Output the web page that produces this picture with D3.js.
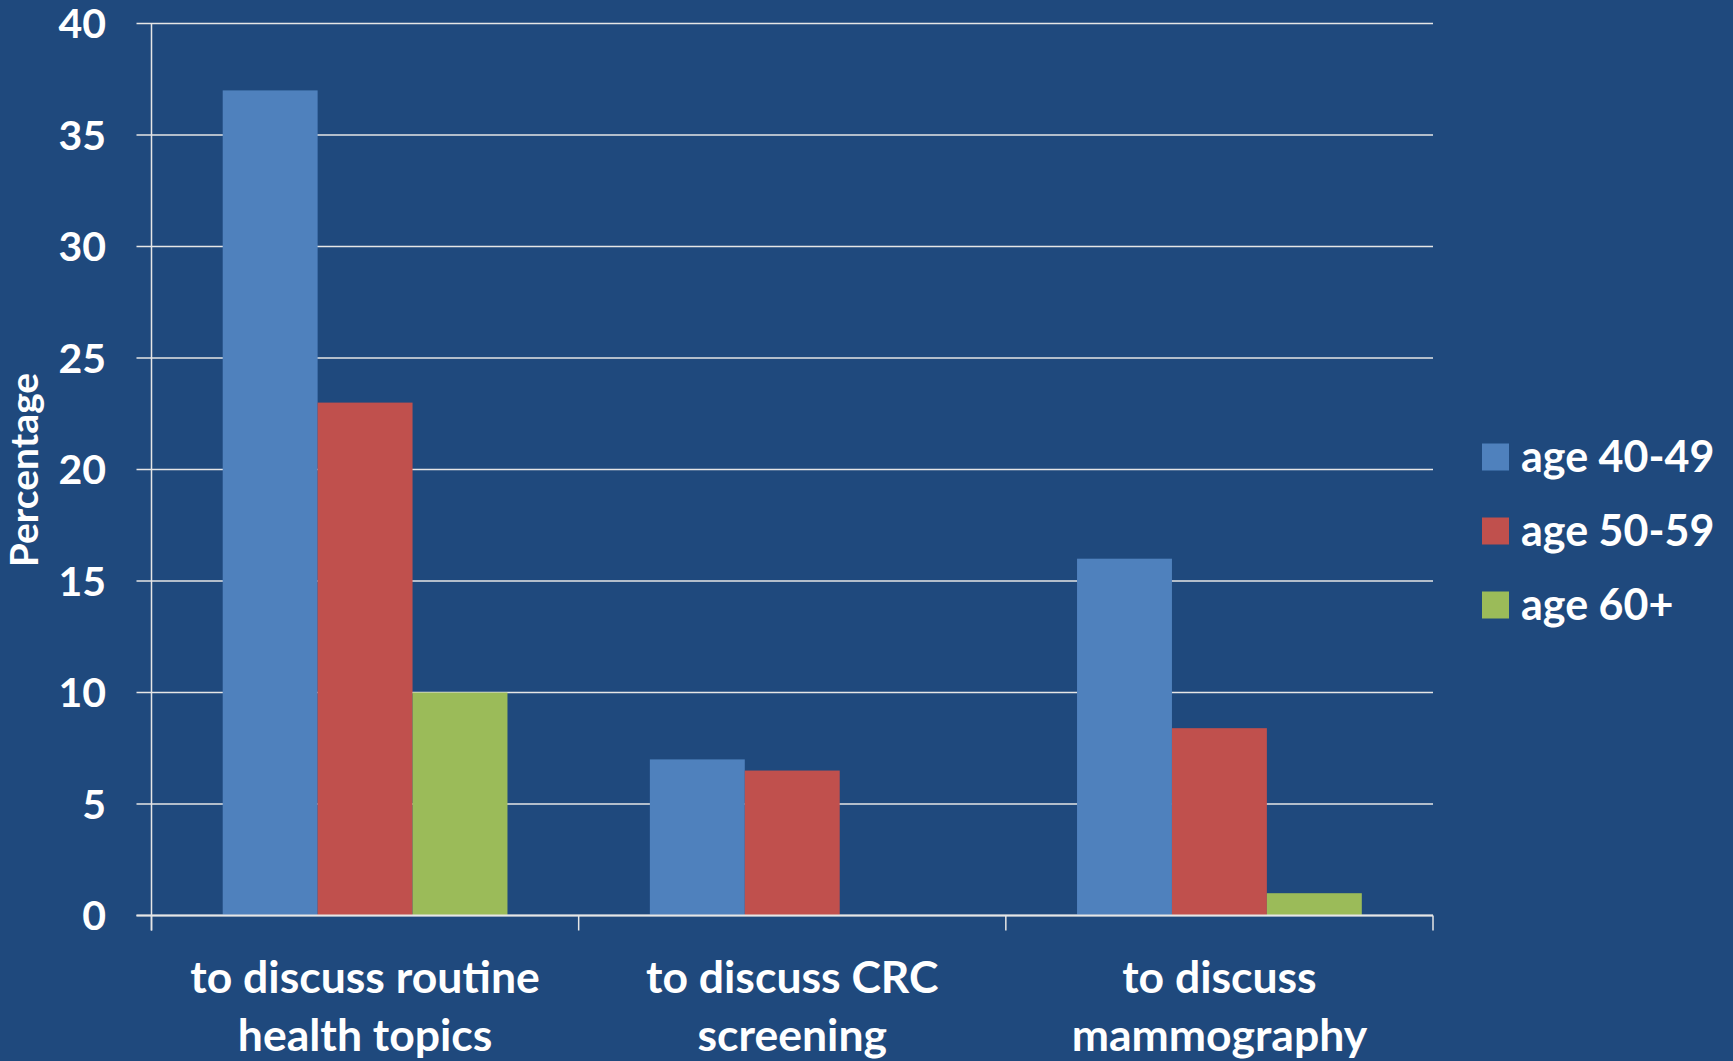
<!DOCTYPE html>
<meta charset="utf-8">
<style>
    body { margin: 0; background: #1f497d; }
    svg { display: block; }
    text { font-family: Lato, "Open Sans", sans-serif; font-weight: bold; fill: #fff; }
    .grid line { stroke: #e6e6e6; stroke-width: 1.5; }
</style>
<svg width="1733" height="1061"></svg>
<script src="https://cdn.jsdelivr.net/npm/d3@7"></script>
<script>
    var categories = [
        ["to discuss routine", "health topics"],
        ["to discuss CRC", "screening"],
        ["to discuss", "mammography"]
    ];
    var series = ["age 40-49", "age 50-59", "age 60+"];
    var colors = ["#4f81bd", "#c0504d", "#9bbb59"];

    var age4049 = [37, 7, 16];
    var age5059 = [23, 6.5, 8.4];
    var age60 = [10, 0, 1];
    var yTicks = [0, 5, 10, 15, 20, 25, 30, 35, 40];

    var values = [age4049, age5059, age60];

    var svg = d3.select("svg"),
        mLeft = 151.5, mRight = 1433, mTop = 23.5, mBottom = 915.5;

    svg.append("rect").attr("width", 1733).attr("height", 1061).attr("fill", "#1f497d");

    var x = d3.scaleBand()
        .domain(d3.range(categories.length))
        .range([mLeft, mRight]);

    var xs = d3.scaleBand()
        .domain(d3.range(series.length))
        .range([0, x.bandwidth()])
        .paddingInner(0)
        .paddingOuter(0.75);

    var y = d3.scaleLinear().domain([0, 40]).range([mBottom, mTop]);

    // gridlines (with small tick stubs left of the axis)
    var grid = svg.append("g").attr("class", "grid");
    grid.selectAll("line")
        .data(yTicks)
        .enter().append("line")
        .attr("x1", mLeft - 15)
        .attr("x2", mRight)
        .attr("y1", function(d) { return y(d); })
        .attr("y2", function(d) { return y(d); });

    // bars
    var g = svg.append("g");
    series.forEach(function(s, i) {
        g.selectAll(".bar" + i)
            .data(values[i])
            .enter().append("rect")
            .attr("x", function(d, j) { return x(j) + xs(i); })
            .attr("width", xs.bandwidth())
            .attr("y", function(d) { return y(d); })
            .attr("height", function(d) { return mBottom - y(d); })
            .attr("fill", colors[i]);
    });

    // y axis line
    svg.append("line")
        .attr("x1", mLeft).attr("x2", mLeft)
        .attr("y1", mTop).attr("y2", mBottom + 15)
        .attr("stroke", "#e6e6e6").attr("stroke-width", 1.5);

    // x axis line and category ticks
    svg.append("line")
        .attr("x1", mLeft - 15).attr("x2", mRight)
        .attr("y1", mBottom).attr("y2", mBottom)
        .attr("stroke", "#e6e6e6").attr("stroke-width", 2);

    svg.selectAll(".xtick")
        .data(d3.range(categories.length + 1))
        .enter().append("line")
        .attr("x1", function(d) { return mLeft + d * x.step(); })
        .attr("x2", function(d) { return mLeft + d * x.step(); })
        .attr("y1", mBottom).attr("y2", mBottom + 15)
        .attr("stroke", "#e6e6e6").attr("stroke-width", 1.5);

    // y tick labels
    svg.selectAll(".ylab")
        .data(yTicks)
        .enter().append("text")
        .attr("x", 106)
        .attr("y", function(d) { return y(d); })
        .attr("dy", "0.36em")
        .attr("text-anchor", "end")
        .style("font-size", "41px")
        .text(function(d) { return d; });

    // category labels
    var cl = svg.selectAll(".xlab")
        .data(categories)
        .enter().append("text")
        .attr("text-anchor", "middle")
        .style("font-size", "44.5px")
        .attr("transform", function(d, i) { return "translate(" + (x(i) + x.bandwidth() / 2) + ",993)"; });
    cl.selectAll("tspan")
        .data(function(d) { return d; })
        .enter().append("tspan")
        .attr("x", 0)
        .attr("y", function(d, k) { return k * 58; })
        .text(function(d) { return d; });

    // y axis title
    svg.append("text")
        .attr("transform", "translate(38,470) rotate(-90)")
        .attr("text-anchor", "middle")
        .style("font-size", "39px")
        .text("Percentage");

    // legend
    var legend = svg.selectAll(".legend")
        .data(series)
        .enter().append("g")
        .attr("transform", function(d, i) { return "translate(1482," + (457 + i * 74) + ")"; });
    legend.append("rect")
        .attr("y", -13.5)
        .attr("width", 27).attr("height", 27)
        .attr("fill", function(d, i) { return colors[i]; });
    legend.append("text")
        .attr("x", 39)
        .attr("dy", "0.36em")
        .style("font-size", "43px")
        .text(function(d) { return d; });
</script>
